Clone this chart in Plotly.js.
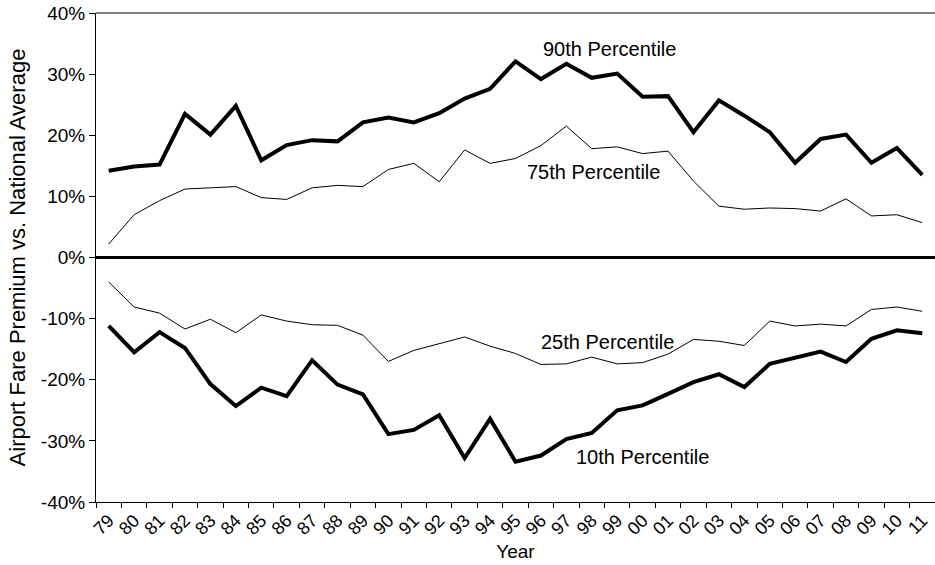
<!DOCTYPE html>
<html>
<head>
<meta charset="utf-8">
<script src="https://cdn.plot.ly/plotly-3.0.1.min.js"></script>
<style>html,body{margin:0;padding:0;background:#fff;}#chart{width:935px;height:565px;}</style>
</head>
<body>
<div id="chart"></div>
<script>
const years = ['79','80','81','82','83','84','85','86','87','88','89','90','91','92','93','94','95','96','97','98','99','00','01','02','03','04','05','06','07','08','09','10','11'];
const p90 = [14.2,14.9,15.2,23.5,20.1,24.8,15.9,18.4,19.2,19.0,22.1,22.9,22.1,23.6,26.0,27.6,32.1,29.2,31.7,29.4,30.1,26.3,26.4,20.5,25.7,23.2,20.5,15.5,19.4,20.1,15.5,17.9,13.5];
const p75 = [2.2,7.0,9.3,11.2,11.4,11.6,9.8,9.5,11.4,11.8,11.6,14.4,15.4,12.4,17.6,15.4,16.2,18.3,21.5,17.8,18.1,17.0,17.4,12.5,8.4,7.9,8.1,8.0,7.6,9.6,6.8,7.0,5.7];
const p25 = [-4.0,-8.1,-9.1,-11.7,-10.1,-12.3,-9.4,-10.4,-11.0,-11.1,-12.7,-17.0,-15.2,-14.1,-13.0,-14.5,-15.7,-17.5,-17.4,-16.3,-17.4,-17.2,-15.8,-13.4,-13.7,-14.4,-10.4,-11.2,-10.9,-11.2,-8.5,-8.1,-8.8];
const p10 = [-11.2,-15.5,-12.2,-14.8,-20.7,-24.3,-21.3,-22.7,-16.8,-20.8,-22.4,-28.9,-28.2,-25.8,-32.8,-26.4,-33.4,-32.4,-29.7,-28.7,-25.0,-24.2,-22.3,-20.4,-19.1,-21.2,-17.4,-16.4,-15.4,-17.1,-13.3,-11.9,-12.4];
const seriesNames = ['90th Percentile','75th Percentile','25th Percentile','10th Percentile'];
const yTickVals = [-40,-30,-20,-10,0,10,20,30,40];
const yTickText = ['-40%','-30%','-20%','-10%','0%','10%','20%','30%','40%'];

const FONT = 'Liberation Sans, Arial, sans-serif';
function tr(y, w, name){
  return {x: years, y: y, type: 'scatter', mode: 'lines', name: name,
          line: {color: '#000', width: w}, hoverinfo: 'skip'};
}
const data = [
  tr(p75, 1, seriesNames[1]),
  tr(p25, 1, seriesNames[2]),
  tr(p90, 4, seriesNames[0]),
  tr(p10, 4, seriesNames[3])
];
const layout = {
  width: 935, height: 565,
  margin: {l: 96, r: 0, t: 13, b: 63},
  paper_bgcolor: '#fff', plot_bgcolor: '#fff',
  showlegend: false,
  font: {family: FONT, size: 18, color: '#000'},
  xaxis: {
    type: 'category', tickangle: -45, tickson: 'boundaries',
    ticks: 'outside', ticklen: 5, tickcolor: '#000', tickwidth: 1,
    showline: true, linecolor: '#000', linewidth: 1,
    showgrid: false, zeroline: false,
    tickfont: {family: FONT, size: 18, color: '#000'},
    title: {text: 'Year', font: {family: FONT, size: 19, color: '#000'}, standoff: 6},
    range: [-0.5, 32.5]
  },
  yaxis: {
    range: [-40, 40], tickvals: yTickVals, ticktext: yTickText,
    ticks: 'outside', ticklen: 6, tickcolor: '#000', tickwidth: 1,
    showline: true, linecolor: '#000', linewidth: 1,
    showgrid: false, zeroline: true, zerolinecolor: '#000', zerolinewidth: 2.5,
    tickfont: {family: FONT, size: 19, color: '#000'},
    title: {text: 'Airport Fare Premium vs. National Average', font: {family: FONT, size: 22, color: '#000'}, standoff: 9}
  },
  shapes: [
    {type: 'line', xref: 'paper', yref: 'paper', x0: 0, x1: 1, y0: 1, y1: 1, line: {color: '#808080', width: 2}}
  ],
  annotations: [
    {x: 19.7, y: 34.1, xref: 'x', yref: 'y', text: seriesNames[0], showarrow: false, font: {family: FONT, size: 20, color: '#000'}},
    {x: 19.05, y: 14.0, xref: 'x', yref: 'y', text: seriesNames[1], showarrow: false, font: {family: FONT, size: 20, color: '#000'}},
    {x: 19.6, y: -13.9, xref: 'x', yref: 'y', text: seriesNames[2], showarrow: false, font: {family: FONT, size: 20, color: '#000'}},
    {x: 21.0, y: -32.6, xref: 'x', yref: 'y', text: seriesNames[3], showarrow: false, font: {family: FONT, size: 20, color: '#000'}}
  ]
};
Plotly.newPlot('chart', data, layout, {staticPlot: true, displayModeBar: false});
</script>
</body>
</html>
